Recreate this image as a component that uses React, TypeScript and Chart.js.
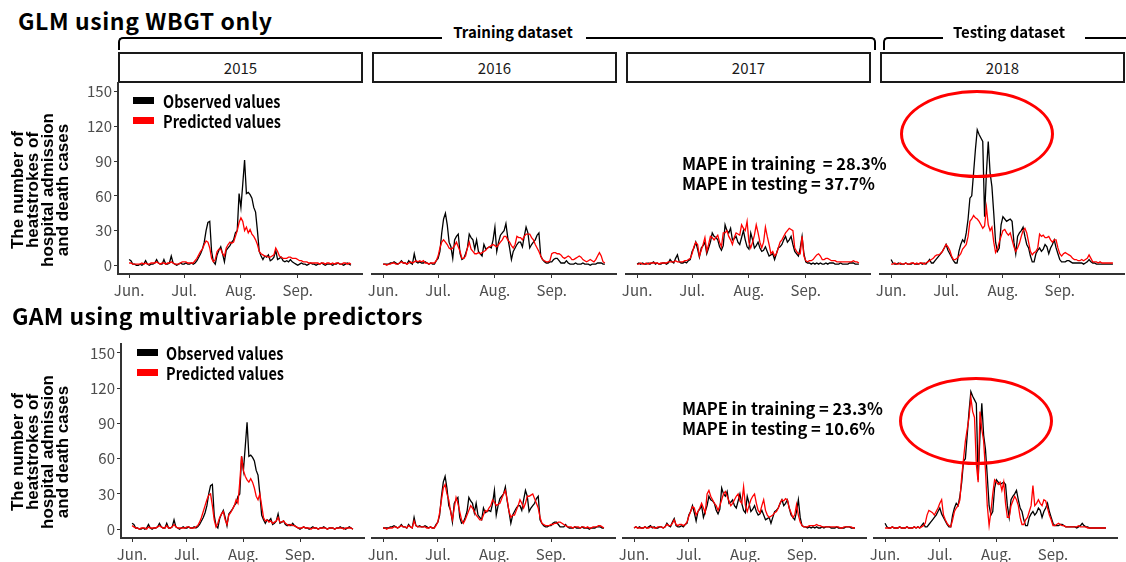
import React, { useEffect, useRef } from "react";
import { Chart, registerables } from "chart.js";
Chart.register(...registerables);

// ---------------- data ----------------
const YEARS = ["2015", "2016", "2017", "2018"];
const MONTH_LABELS = ["Jun.", "Jul.", "Aug.", "Sep."];
const MONTH_DAYS = [0, 30, 61, 92]; // day offsets from Jun 1
const Y_TICKS = [0, 30, 60, 90, 120, 150];
const SERIES_NAMES = ["Observed values", "Predicted values"];

// observed daily cases, Jun 1 .. Sep 30
const OBS_2015 = [
  5, 4, 1, 1, 0, 0, 1, 0, 1, 4, 1, 0, 1, 1, 2, 5, 2, 1, 1, 5,
  1, 1, 2, 8, 2, 1, 0, 1, 2, 1, 1, 2, 1, 1, 2, 1, 2, 4, 7, 10,
  14, 20, 30, 37, 38, 12, 3, 1, 9, 13, 16, 10, 3, 13, 15, 17, 20, 22, 28, 30,
  62, 50, 70, 91, 62, 63, 61, 58, 50, 46, 30, 12, 8, 5, 8, 7, 9, 4, 5, 7,
  13, 5, 6, 7, 4, 3, 4, 3, 5, 3, 2, 1, 0, 1, 2, 1, 1, 0, 1, 2,
  1, 1, 0, 1, 1, 2, 1, 0, 1, 1, 1, 0, 1, 1, 2, 1, 1, 0, 1, 2, 1, 0,
];
const OBS_2016 = [
  1, 1, 1, 1, 2, 2, 3, 2, 1, 2, 4, 2, 2, 1, 4, 2, 1, 10, 3, 2,
  3, 2, 2, 3, 2, 1, 2, 1, 1, 4, 6, 12, 28, 40, 45, 35, 20, 16, 6, 22,
  25, 27, 10, 5, 6, 10, 15, 27, 24, 22, 14, 22, 12, 10, 8, 18, 14, 15, 16, 15,
  22, 33, 12, 20, 26, 28, 30, 36, 24, 15, 5, 12, 15, 18, 20, 20, 16, 25, 33, 28,
  15, 18, 20, 22, 26, 28, 8, 5, 3, 2, 2, 3, 3, 5, 6, 6, 4, 2, 2, 2,
  4, 2, 1, 1, 1, 2, 1, 1, 1, 2, 1, 1, 1, 0, 1, 1, 1, 2, 2, 2, 1, 1,
];
const OBS_2017 = [
  1, 2, 1, 2, 1, 1, 2, 1, 2, 3, 1, 2, 1, 1, 2, 2, 1, 2, 5, 3,
  2, 6, 9, 3, 2, 2, 3, 2, 4, 5, 12, 15, 20, 14, 7, 15, 17, 20, 10, 15,
  20, 28, 25, 24, 22, 16, 13, 17, 35, 30, 28, 32, 22, 23, 25, 20, 18, 24, 30, 22,
  16, 14, 28, 22, 15, 17, 20, 15, 12, 13, 16, 12, 8, 9, 10, 5, 10, 15, 16, 18,
  22, 25, 20, 22, 25, 18, 12, 10, 8, 15, 25, 10, 3, 2, 2, 1, 2, 1, 2, 1,
  2, 1, 1, 2, 1, 2, 2, 2, 1, 1, 1, 2, 1, 1, 1, 1, 2, 2, 2, 1, 1, 1,
];
const OBS_2018 = [
  5, 2, 1, 1, 2, 1, 1, 1, 2, 1, 1, 1, 2, 1, 1, 1, 2, 1, 2, 1,
  3, 5, 2, 2, 4, 6, 8, 10, 12, 15, 18, 13, 10, 7, 4, 2, 2, 12, 18, 22,
  20, 28, 40, 58, 60, 80, 100, 117, 113, 110, 107, 42, 80, 107, 80, 68, 45, 20, 12, 15,
  35, 42, 40, 38, 39, 40, 38, 20, 10, 25, 28, 30, 33, 25, 18, 15, 8, 3, 3, 10,
  13, 15, 12, 14, 18, 16, 10, 15, 18, 22, 15, 10, 5, 3, 3, 3, 4, 4, 3, 2,
  2, 2, 2, 2, 2, 1, 2, 3, 5, 3, 2, 2, 1, 1, 1, 1, 1, 1, 1, 1, 1, 1,
];

// GLM (WBGT only) predictions
const GLM_2015 = [
  2, 2, 1, 1, 1, 1, 1, 2, 1, 2, 1, 1, 2, 2, 2, 3, 2, 1, 2, 2,
  1, 2, 2, 3, 2, 1, 1, 1, 2, 3, 3, 3, 2, 2, 2, 2, 4, 6, 9, 12,
  14, 18, 21, 20, 15, 6, 3, 5, 12, 14, 14, 10, 8, 15, 18, 20, 19, 20, 25, 30,
  37, 41, 38, 30, 33, 28, 31, 27, 25, 22, 18, 12, 10, 9, 8, 8, 7, 7, 8, 9,
  15, 12, 8, 7, 6, 6, 6, 7, 7, 6, 6, 6, 5, 4, 4, 3, 3, 3, 2, 2,
  2, 2, 2, 2, 1, 2, 2, 1, 2, 2, 1, 2, 1, 2, 2, 1, 1, 2, 2, 1, 2, 1,
];
const GLM_2016 = [
  1, 1, 0, 1, 1, 2, 2, 1, 1, 2, 3, 2, 2, 1, 2, 3, 2, 3, 4, 3,
  4, 3, 4, 2, 2, 1, 2, 2, 2, 4, 8, 15, 20, 22, 20, 18, 15, 14, 15, 17,
  20, 16, 12, 6, 6, 8, 15, 20, 14, 12, 10, 10, 11, 10, 11, 12, 13, 15, 16, 17,
  18, 17, 16, 18, 20, 22, 25, 25, 22, 20, 17, 15, 18, 25, 24, 24, 22, 25, 27, 27,
  27, 24, 22, 18, 15, 12, 8, 5, 4, 3, 3, 4, 10, 11, 11, 10, 10, 9, 7, 6,
  7, 8, 7, 5, 5, 6, 7, 8, 7, 5, 4, 3, 4, 5, 4, 3, 5, 8, 11, 8, 3, 2,
];
const GLM_2017 = [
  1, 1, 2, 1, 1, 2, 1, 2, 2, 2, 2, 2, 1, 2, 2, 2, 2, 3, 3, 3,
  3, 4, 3, 3, 3, 3, 4, 4, 5, 6, 10, 16, 20, 18, 8, 13, 18, 24, 12, 18,
  25, 24, 22, 24, 26, 20, 16, 28, 28, 30, 25, 22, 18, 24, 28, 27, 26, 35, 32, 30,
  38, 20, 15, 20, 26, 35, 28, 20, 15, 20, 33, 25, 18, 10, 12, 8, 10, 15, 20, 22,
  25, 28, 30, 32, 31, 30, 15, 12, 10, 10, 25, 8, 4, 3, 4, 4, 5, 7, 9, 10,
  8, 5, 5, 6, 6, 5, 4, 4, 4, 3, 3, 3, 3, 3, 3, 3, 3, 3, 4, 3, 3, 2,
];
const GLM_2018 = [
  1, 1, 2, 1, 1, 2, 1, 1, 2, 1, 1, 2, 2, 1, 2, 1, 2, 2, 1, 2,
  3, 4, 5, 6, 8, 9, 9, 10, 12, 15, 18, 16, 13, 8, 5, 5, 6, 8, 10, 14,
  16, 18, 25, 38, 40, 43, 41, 40, 38, 35, 32, 34, 50, 35, 30, 33, 20, 11, 14, 20,
  25, 30, 31, 28, 26, 28, 22, 16, 12, 15, 19, 25, 30, 32, 28, 20, 12, 9, 11, 12,
  15, 27, 25, 26, 24, 24, 25, 22, 20, 22, 22, 15, 10, 8, 10, 11, 10, 9, 8, 6,
  5, 5, 4, 4, 5, 4, 5, 6, 9, 6, 3, 3, 3, 2, 3, 2, 2, 2, 2, 2, 2, 2,
];

// GAM (multivariable) predictions
const GAM_2015 = [
  3, 2, 1, 1, 0, 1, 1, 1, 0, 2, 1, 1, 1, 1, 2, 3, 2, 1, 1, 3,
  1, 1, 2, 4, 2, 1, 1, 1, 1, 1, 2, 2, 1, 1, 1, 2, 3, 6, 10, 15,
  20, 25, 29, 30, 20, 8, 2, 5, 10, 13, 15, 8, 4, 12, 14, 17, 20, 25, 22, 40,
  62, 50, 45, 42, 40, 43, 40, 35, 28, 25, 30, 20, 10, 7, 8, 6, 7, 5, 6, 7,
  10, 6, 6, 7, 5, 4, 3, 4, 3, 3, 2, 1, 1, 1, 2, 1, 1, 1, 0, 1,
  1, 1, 0, 1, 1, 1, 1, 0, 1, 1, 1, 0, 1, 1, 1, 1, 0, 1, 1, 1, 1, 0,
];
const GAM_2016 = [
  1, 1, 0, 1, 1, 1, 2, 2, 1, 2, 3, 2, 2, 1, 3, 2, 1, 7, 3, 2,
  2, 2, 2, 2, 1, 1, 2, 1, 1, 3, 6, 14, 25, 35, 38, 30, 25, 15, 8, 18,
  27, 22, 15, 8, 5, 8, 12, 16, 20, 18, 15, 12, 10, 8, 8, 12, 16, 15, 18, 20,
  25, 23, 20, 21, 22, 26, 30, 33, 25, 15, 10, 12, 12, 16, 20, 25, 22, 18, 22, 28,
  28, 29, 30, 26, 22, 18, 10, 5, 4, 3, 3, 3, 4, 4, 5, 5, 6, 6, 5, 4,
  3, 2, 2, 2, 1, 2, 2, 2, 1, 2, 2, 1, 2, 1, 1, 2, 2, 2, 3, 3, 2, 1,
];
const GAM_2017 = [
  1, 2, 1, 1, 1, 1, 2, 1, 1, 2, 2, 1, 1, 2, 2, 2, 1, 2, 4, 3,
  3, 5, 8, 4, 3, 4, 4, 3, 4, 6, 11, 15, 19, 18, 12, 15, 18, 22, 18, 14,
  30, 33, 28, 25, 22, 20, 16, 20, 25, 30, 32, 28, 24, 20, 22, 25, 28, 30, 24, 22,
  36, 20, 15, 20, 25, 28, 30, 22, 16, 14, 20, 25, 16, 12, 10, 11, 12, 14, 15, 18,
  22, 25, 24, 26, 25, 18, 14, 10, 12, 21, 12, 6, 3, 2, 2, 2, 3, 3, 3, 3,
  4, 3, 3, 2, 2, 2, 2, 2, 2, 2, 2, 2, 2, 1, 1, 2, 2, 2, 2, 2, 1, 1,
];
const GAM_2018 = [
  1, 1, 1, 1, 2, 1, 1, 1, 2, 1, 1, 1, 2, 1, 1, 1, 2, 1, 2, 1,
  2, 3, 5, 12, 16, 15, 14, 12, 15, 18, 22, 25, 12, 8, 5, 3, 2, 8, 15, 18,
  20, 25, 45, 60, 75, 85, 95, 112, 100, 95, 55, 40, 100, 85, 75, 50, 20, 3, 15, 30,
  42, 40, 38, 40, 33, 40, 22, 10, 10, 20, 24, 28, 25, 20, 10, 4, 4, 8, 10, 15,
  20, 37, 20, 22, 25, 22, 20, 25, 24, 18, 12, 8, 3, 3, 4, 5, 4, 3, 3, 2,
  2, 2, 2, 2, 2, 2, 3, 2, 2, 2, 2, 1, 1, 1, 1, 1, 1, 1, 1, 1, 1, 1,
];

const OBS = [OBS_2015, OBS_2016, OBS_2017, OBS_2018];
const GLM = [GLM_2015, GLM_2016, GLM_2017, GLM_2018];
const GAM = [GAM_2015, GAM_2016, GAM_2017, GAM_2018];

// ---------------- layout ----------------
const FONT = "'Noto Sans CJK JP', 'Noto Sans', sans-serif";
const RED = "#ff0000";
const PAD = 16;
const XH = 30;
const YW = 40;
const X_MIN = -6.05;
const X_MAX = 127.05;
const Y_MIN = -7.5;
const Y_MAX = 157.5;

const TOP_ROW = { top: 83, bottom: 274, lefts: [118, 372, 626, 880], width: 244 };
const BOT_ROW = { top: 344, bottom: 538, lefts: [121, 372, 623, 874], width: 243 };

type PanelProps = {
  left: number;
  top: number;
  width: number;
  height: number;
  obs: number[];
  pred: number[];
  showY: boolean;
};

function Panel(p: PanelProps) {
  const ref = useRef<HTMLCanvasElement>(null);
  const extra = p.showY ? YW : 0;
  const cw = p.width + 2 * PAD + extra;
  const ch = p.height + PAD + XH;
  const cl = p.left - PAD - extra;
  const ct = p.top - PAD;
  useEffect(() => {
    const chart = new Chart(ref.current as HTMLCanvasElement, {
      type: "line",
      data: {
        datasets: [
          {
            label: SERIES_NAMES[1],
            data: p.pred.map((v, i) => ({ x: i, y: v })),
            borderColor: RED,
            borderWidth: 1.3,
            pointRadius: 0,
            tension: 0,
            fill: false,
          },
          {
            label: SERIES_NAMES[0],
            data: p.obs.map((v, i) => ({ x: i, y: v })),
            borderColor: "#000000",
            borderWidth: 1.3,
            pointRadius: 0,
            tension: 0,
            fill: false,
          },
        ],
      },
      options: {
        animation: false,
        responsive: false,
        maintainAspectRatio: false,
        events: [],
        layout: { padding: { left: PAD, right: PAD, top: PAD, bottom: 0 } },
        plugins: { legend: { display: false }, tooltip: { enabled: false } },
        scales: {
          x: {
            type: "linear",
            min: X_MIN,
            max: X_MAX,
            afterBuildTicks: (s: any) => {
              s.ticks = MONTH_DAYS.map((v) => ({ value: v }));
            },
            afterFit: (s: any) => {
              s.height = XH;
            },
            ticks: {
              autoSkip: false,
              maxRotation: 0,
              padding: 3,
              color: "#4d4d4d",
              font: { family: FONT, size: 15 },
              callback: (v: any) => {
                const k = MONTH_DAYS.indexOf(Number(v));
                return k >= 0 ? MONTH_LABELS[k] : "";
              },
            },
            grid: { drawOnChartArea: false, drawTicks: true, tickLength: 4, color: "#333333", lineWidth: 1 },
            border: { display: true, color: "#333333", width: 2 },
          },
          y: {
            type: "linear",
            display: p.showY,
            min: Y_MIN,
            max: Y_MAX,
            afterBuildTicks: (s: any) => {
              s.ticks = Y_TICKS.map((v) => ({ value: v }));
            },
            afterFit: (s: any) => {
              s.width = p.showY ? YW : 0;
            },
            ticks: {
              padding: 2,
              color: "#4d4d4d",
              font: { family: FONT, size: 15 },
            },
            grid: { drawOnChartArea: false, drawTicks: true, tickLength: 4, color: "#333333", lineWidth: 1 },
            border: { display: true, color: "#333333", width: 2 },
          },
        },
      },
    });
    return () => chart.destroy();
  }, [p.obs, p.pred, p.showY]);
  return (
    <canvas
      ref={ref}
      width={cw}
      height={ch}
      style={{ position: "absolute", left: cl, top: ct, width: cw, height: ch }}
    />
  );
}

function Txt(props: { left: number; top: number; size: number; weight?: number; children: React.ReactNode; center?: boolean; style?: React.CSSProperties }) {
  return (
    <div
      style={{
        position: "absolute",
        left: props.left,
        top: props.top,
        font: `${props.weight ?? 400} ${props.size}px ${FONT}`,
        lineHeight: `${props.size}px`,
        whiteSpace: "pre",
        color: "#000",
        transform: props.center ? "translateX(-50%)" : undefined,
        zIndex: 5,
        ...props.style,
      }}
    >
      {props.children}
    </div>
  );
}

function YTitle({ cx, cy }: { cx: number; cy: number }) {
  const W = 240;
  const H = 60;
  return (
    <div
      style={{
        position: "absolute",
        left: cx - W / 2,
        top: cy - H / 2,
        width: W,
        height: H,
        transform: "rotate(-90deg)",
        textAlign: "center",
        font: "700 17px 'Liberation Sans', Arial, sans-serif",
        lineHeight: "15px",
        color: "#000",
        zIndex: 5,
      }}
    >
      The number of
      <br />
      heatstrokes of
      <br />
      hospital admission
      <br />
      and death cases
    </div>
  );
}

function Legend({ sx, tx, y1, y2 }: { sx: number; tx: number; y1: number; y2: number }) {
  // y1/y2: text baselines
  const items = [
    { name: SERIES_NAMES[0], color: "#000", base: y1 },
    { name: SERIES_NAMES[1], color: RED, base: y2 },
  ];
  return (
    <>
      {items.map((it) => (
        <React.Fragment key={it.name}>
          <div
            style={{
              position: "absolute",
              left: sx,
              top: it.base - 11,
              width: 21,
              height: 7,
              background: it.color,
              zIndex: 5,
            }}
          />
          <div
            style={{
              position: "absolute",
              left: tx,
              top: it.base - 16,
              font: `700 17px ${FONT}`,
              lineHeight: "17px",
              whiteSpace: "pre",
              transform: "scaleX(0.85)",
              transformOrigin: "left center",
              zIndex: 5,
            }}
          >
            {it.name}
          </div>
        </React.Fragment>
      ))}
    </>
  );
}

function Ellipse({ cx, cy, rx, ry }: { cx: number; cy: number; rx: number; ry: number }) {
  return (
    <div
      style={{
        position: "absolute",
        left: cx - rx,
        top: cy - ry,
        width: rx * 2,
        height: ry * 2,
        boxSizing: "border-box",
        border: `3.5px solid ${RED}`,
        borderRadius: "50%",
        zIndex: 6,
      }}
    />
  );
}

function Bracket(props: { left: number; width: number; leftTick?: boolean; rightTick?: boolean }) {
  return (
    <div
      style={{
        position: "absolute",
        left: props.left,
        top: 37,
        width: props.width,
        height: 13,
        boxSizing: "border-box",
        borderTop: "2px solid #000",
        borderLeft: props.leftTick ? "2px solid #000" : undefined,
        borderRight: props.rightTick ? "2px solid #000" : undefined,
        borderTopLeftRadius: props.leftTick ? 5 : 0,
        borderTopRightRadius: props.rightTick ? 5 : 0,
      }}
    />
  );
}

const MAPE_STYLE: React.CSSProperties = {
  position: "absolute",
  left: 682,
  font: `700 16.5px ${FONT}`,
  lineHeight: "20px",
  whiteSpace: "pre",
  zIndex: 5,
};

export default function App() {
  return (
    <div
      style={{
        position: "absolute",
        left: 0,
        top: 0,
        width: 1126,
        height: 562,
        overflow: "hidden",
        background: "#fff",
      }}
    >
      {/* titles */}
      <Txt left={18} top={8.5} size={23} weight={700} style={{ letterSpacing: "0.6px" }}>GLM using WBGT only</Txt>
      <Txt left={12} top={303.5} size={23} weight={700} style={{ letterSpacing: "0.4px" }}>GAM using multivariable predictors</Txt>

      {/* dataset brackets */}
      <Bracket left={118} width={324} leftTick />
      <Bracket left={586} width={290} rightTick />
      <Bracket left={883} width={60} leftTick />
      <Bracket left={1085} width={41} />
      <Txt left={513} top={24} size={15} weight={700} center>Training dataset</Txt>
      <Txt left={1009} top={24} size={15} weight={700} center>Testing dataset</Txt>

      {/* facet strips */}
      {YEARS.map((yr, i) => (
        <div
          key={yr}
          style={{
            position: "absolute",
            left: TOP_ROW.lefts[i],
            top: 52,
            width: TOP_ROW.width + 1,
            height: 31,
            boxSizing: "border-box",
            border: "2px solid #1a1a1a",
            display: "flex",
            alignItems: "center",
            justifyContent: "center",
            font: `400 15px ${FONT}`,
            color: "#1a1a1a",
          }}
        >
          {yr}
        </div>
      ))}

      {/* panels */}
      {YEARS.map((yr, i) => (
        <Panel
          key={"t" + yr}
          left={TOP_ROW.lefts[i]}
          top={TOP_ROW.top}
          width={TOP_ROW.width}
          height={TOP_ROW.bottom - TOP_ROW.top}
          obs={OBS[i]}
          pred={GLM[i]}
          showY={i === 0}
        />
      ))}
      {YEARS.map((yr, i) => (
        <Panel
          key={"b" + yr}
          left={BOT_ROW.lefts[i]}
          top={BOT_ROW.top}
          width={BOT_ROW.width}
          height={BOT_ROW.bottom - BOT_ROW.top}
          obs={OBS[i]}
          pred={GAM[i]}
          showY={i === 0}
        />
      ))}

      {/* y-axis titles */}
      <YTitle cx={40} cy={190} />
      <YTitle cx={40} cy={452} />

      {/* legends */}
      <Legend sx={133} tx={163} y1={108} y2={128} />
      <Legend sx={137} tx={166} y1={360} y2={380} />

      {/* MAPE annotations */}
      <div style={{ ...MAPE_STYLE, top: 152.5 }}>{"MAPE in training  = 28.3%\nMAPE in testing = 37.7%"}</div>
      <div style={{ ...MAPE_STYLE, top: 397.5 }}>{"MAPE in training = 23.3%\nMAPE in testing = 10.6%"}</div>

      {/* highlight ellipses */}
      <Ellipse cx={977} cy={134} rx={77} ry={44} />
      <Ellipse cx={976} cy={421} rx={77} ry={44} />
    </div>
  );
}
